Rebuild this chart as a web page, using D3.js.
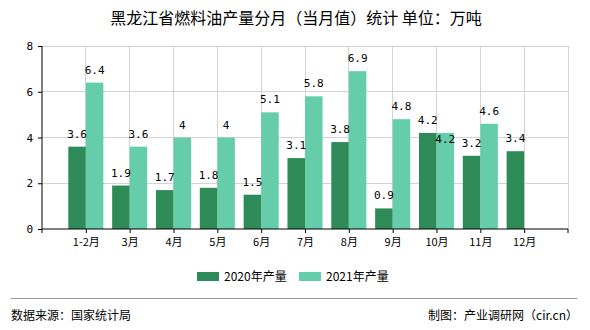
<!DOCTYPE html>
<html><head><meta charset="utf-8">
<script src="https://cdn.jsdelivr.net/npm/d3@7"></script>
<style>
body{margin:0;background:#fff;}
text{font-family:"Noto Sans CJK SC","DejaVu Sans",sans-serif;}
</style></head>
<body><svg id="c" width="590" height="330"></svg>
<script>
const categories = ["1-2月","3月","4月","5月","6月","7月","8月","9月","10月","11月","12月"];
const series2020 = [3.6,1.9,1.7,1.8,1.5,3.1,3.8,0.9,4.2,3.2,3.4];
const series2021 = [6.4,3.6,4,4,5.1,5.8,6.9,4.8,4.2,4.6,null];
const seriesNames = ["2020年产量","2021年产量"];
const colors = ["#2E8B57","#66CDAA"];
const yTicks = [0,2,4,6,8];

const svg = d3.select("#c");
const L=42,R=568,T=46,B=229;
const x = d3.scaleLinear().domain([0,12]).range([L,R]);
const y = d3.scaleLinear().domain([0,8]).range([B,T]);
const bw = x(0.4)-x(0);

svg.append("text").attr("x",296).attr("y",24).attr("text-anchor","middle")
  .style("font-size","16px").attr("fill","#000").text("黑龙江省燃料油产量分月（当月值）统计 单位：万吨");

// grid
const g = svg.append("g");
g.selectAll(".hg").data(yTicks.filter(d=>d>0)).join("line")
  .attr("x1",L).attr("x2",R).attr("y1",d=>y(d)).attr("y2",d=>y(d))
  .attr("stroke","#d3d3d3").attr("stroke-width",1).attr("shape-rendering","crispEdges");
g.selectAll(".vg").data(d3.range(1,13)).join("line")
  .attr("x1",d=>x(d)).attr("x2",d=>x(d)).attr("y1",T).attr("y2",B)
  .attr("stroke","#d3d3d3").attr("stroke-width",1).attr("shape-rendering","crispEdges");

// bars
const all = [series2020, series2021];
all.forEach((s,si)=>{
  svg.append("g").selectAll("rect").data(s.map((v,i)=>({v,i})).filter(d=>d.v!=null)).join("rect")
    .attr("x",d=>x(d.i+1)+(si===0?-bw:0)).attr("width",bw)
    .attr("y",d=>y(d.v)).attr("height",d=>y(0)-y(d.v))
    .attr("fill",colors[si]);
});
// labels
all.forEach((s,si)=>{
  svg.append("g").selectAll("text").data(s.map((v,i)=>({v,i})).filter(d=>d.v!=null)).join("text")
    .attr("x",d=>x(d.i+1)+(si===0?-bw/2:bw/2))
    .attr("y",d=>{
      let yy = y(d.v)-9;
      if(si===1 && series2020[d.i]!=null && Math.abs(series2020[d.i]-d.v)<0.3) yy += 19;
      return yy;})
    .attr("text-anchor","middle").style("font-family","'DejaVu Sans Mono',monospace")
    .style("font-size","11px").attr("fill","#000").text(d=>d.v);
});

// axes
const ya = svg.append("g").attr("transform",`translate(${L},0)`)
  .call(d3.axisLeft(y).tickValues(yTicks).tickSize(4).tickPadding(5).tickFormat(d3.format("d")));
ya.select(".domain").attr("stroke","#000").attr("d",`M0,${T}V${B}`);
ya.selectAll("text").style("font-family","'DejaVu Sans Mono',monospace").style("font-size","11px").attr("fill","#000");
const xa = svg.append("g").attr("transform",`translate(0,${B})`)
  .call(d3.axisBottom(x).tickValues(d3.range(1,12)).tickSize(4).tickPadding(5).tickFormat(d=>categories[d-1]));
xa.select(".domain").attr("stroke","#000").attr("d",`M${L},0H${R}`);
xa.selectAll("text").style("font-size","11px").attr("fill","#000");
xa.append("line").attr("x1",L).attr("x2",L).attr("y1",0).attr("y2",4).attr("stroke","#000");
xa.append("line").attr("x1",R).attr("x2",R).attr("y1",0).attr("y2",4).attr("stroke","#000");

// legend
const lg = svg.append("g");
[[197,0],[299,1]].forEach(([lx,i])=>{
  lg.append("rect").attr("x",lx).attr("y",272).attr("width",22).attr("height",9).attr("fill",colors[i]);
  lg.append("text").attr("x",lx+27).attr("y",281).style("font-size","12px").attr("fill","#000").text(seriesNames[i]);
});

// footer
svg.append("line").attr("x1",11).attr("x2",577).attr("y1",298.5).attr("y2",298.5).attr("stroke","#999");
svg.append("text").attr("x",11).attr("y",320).style("font-size","12px").attr("fill","#000").text("数据来源：国家统计局");
svg.append("text").attr("x",578).attr("y",320).attr("text-anchor","end").style("font-size","12px").attr("fill","#000").text("制图：产业调研网（cir.cn）");
</script></body></html>
